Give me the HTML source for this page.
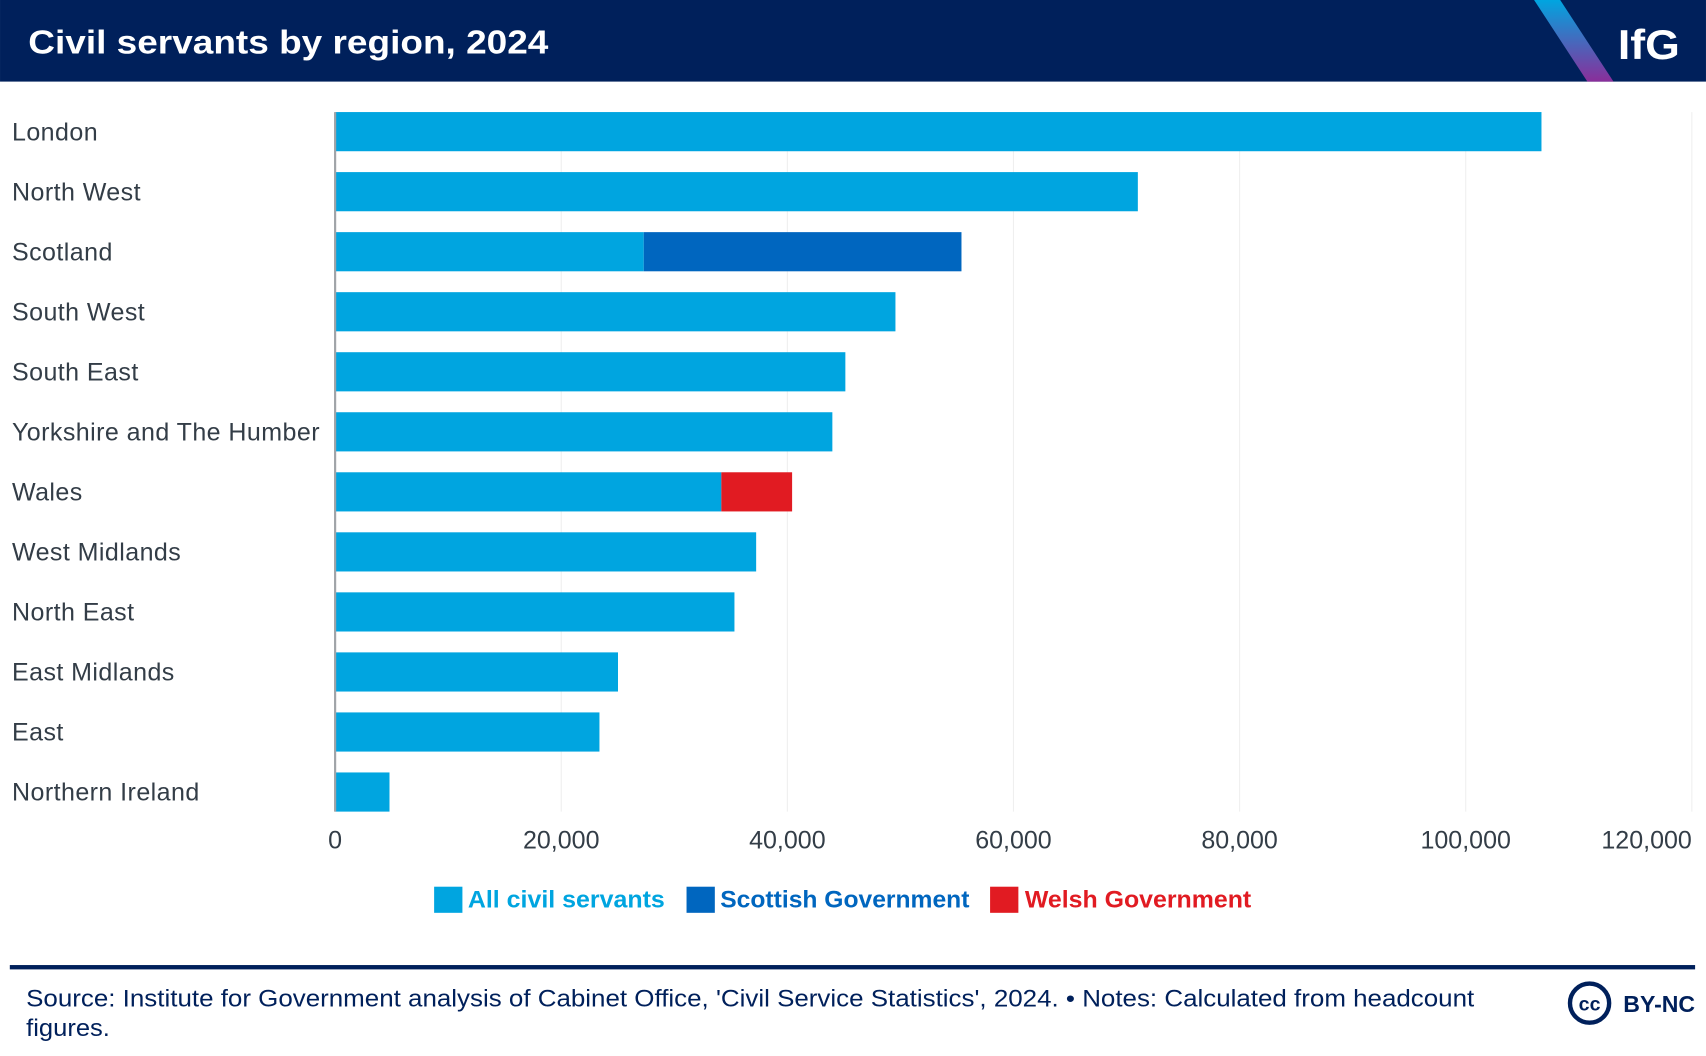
<!DOCTYPE html>
<html><head><meta charset="utf-8"><style>
html,body{margin:0;padding:0;background:#fff;}
svg{display:block;font-family:"Liberation Sans",sans-serif;}
</style></head><body>
<svg id="chart" width="1706" height="1056" viewBox="0 0 1568 970.6">
<defs><linearGradient id="stripe" x1="0" y1="0" x2="0" y2="1"><stop offset="0" stop-color="#00a5e0"/><stop offset="1" stop-color="#8a2e9a"/></linearGradient></defs>
<rect x="0" y="0" width="1568" height="75" fill="#00205b"/>
<polygon points="1410,0 1434,0 1483,75 1459,75" fill="url(#stripe)"/>
<text x="26" y="49" fill="#fff" font-size="31" font-weight="bold" textLength="478" lengthAdjust="spacingAndGlyphs">Civil servants by region, 2024</text>
<text x="1487" y="54" fill="#fff" font-size="38" font-weight="bold" textLength="57" lengthAdjust="spacingAndGlyphs">IfG</text>
<g id="grid"></g><g id="bars"></g><g id="labels"></g><g id="ticks"></g>
<line x1="308" y1="103" x2="308" y2="746" stroke="#a0a4a8" stroke-width="2"/>
<g>
<rect x="399" y="815" width="26" height="24" fill="#00a5e0"/>
<text x="430" y="834" fill="#00a5e0" font-size="22" font-weight="bold" textLength="181" lengthAdjust="spacingAndGlyphs">All civil servants</text>
<rect x="631" y="815" width="26" height="24" fill="#0066bf"/>
<text x="662" y="834" fill="#0066bf" font-size="22" font-weight="bold" textLength="229" lengthAdjust="spacingAndGlyphs">Scottish Government</text>
<rect x="910" y="815" width="26" height="24" fill="#e11b22"/>
<text x="942" y="834" fill="#e11b22" font-size="22" font-weight="bold" textLength="208" lengthAdjust="spacingAndGlyphs">Welsh Government</text>
</g>
<rect x="9" y="887" width="1549" height="4" fill="#00205b"/>
<text x="24" y="925" fill="#00205b" font-size="22" textLength="1331" lengthAdjust="spacingAndGlyphs">Source: Institute for Government analysis of Cabinet Office, 'Civil Service Statistics', 2024. • Notes: Calculated from headcount</text>
<text x="24" y="952" fill="#00205b" font-size="22" textLength="77" lengthAdjust="spacingAndGlyphs">figures.</text>
<circle cx="1461" cy="922" r="18" fill="none" stroke="#00205b" stroke-width="4"/>
<text x="1461" y="929" fill="#00205b" font-size="18" font-weight="bold" text-anchor="middle">cc</text>
<text x="1492" y="930" fill="#00205b" font-size="21" font-weight="bold" textLength="66" lengthAdjust="spacingAndGlyphs">BY-NC</text>
</svg>
<script>
const categories = ["London","North West","Scotland","South West","South East","Yorkshire and The Humber","Wales","West Midlands","North East","East Midlands","East","Northern Ireland"];
const allCivil = [106700,71000,27300,49560,45130,43980,34160,37240,35320,25020,23380,4810];
const scottishGov = [0,0,28100,0,0,0,0,0,0,0,0,0];
const welshGov = [0,0,0,0,0,0,6260,0,0,0,0,0];
const tickValues = [0,20000,40000,60000,80000,100000,120000];
const tickLabels = ["0","20,000","40,000","60,000","80,000","100,000","120,000"];
const NS="http://www.w3.org/2000/svg";
const X0=308, X1=1555, XMAX=120000, Y0=121, STEP=55.18, BH=36;
const xs=v=>X0+v/XMAX*(X1-X0);
const yc=i=>Y0+i*STEP;
function mk(tag,attrs,parent){const e=document.createElementNS(NS,tag);for(const k in attrs)e.setAttribute(k,attrs[k]);document.getElementById(parent).appendChild(e);return e;}
tickValues.forEach((v,i)=>{
  if(v>0){const g=mk('line',{x1:xs(v),x2:xs(v),y1:103,y2:746,stroke:'#efefef','stroke-width':1},'grid');
  
  }
  const last=i===tickValues.length-1;
  const t=mk('text',{x:xs(v),y:780,'font-size':23,fill:'#333d47','text-anchor':last?'end':'middle'},'ticks');
  t.textContent=tickLabels[i];
  
  
});
categories.forEach((c,i)=>{
  const t=mk('text',{x:11,y:yc(i)+8,'font-size':23,fill:'#333d47','letter-spacing':'0.4'},'labels');
  t.textContent=c;
  
  
  const y=yc(i)-BH/2;
  const a=mk('rect',{x:xs(0),y:y,width:xs(allCivil[i])-xs(0),height:BH,fill:'#00a5e0'},'bars');
  
  
  if(scottishGov[i]>0){const s=mk('rect',{x:xs(allCivil[i]),y:y,width:xs(allCivil[i]+scottishGov[i])-xs(allCivil[i]),height:BH,fill:'#0066bf'},'bars');
  
  }
  if(welshGov[i]>0){const w=mk('rect',{x:xs(allCivil[i]),y:y,width:xs(allCivil[i]+welshGov[i])-xs(allCivil[i]),height:BH,fill:'#e11b22'},'bars');
  
  }
});
</script>
</body></html>
